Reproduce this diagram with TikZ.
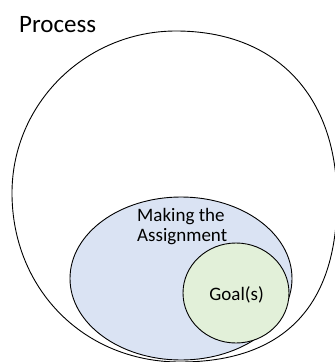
\documentclass[tikz,border=0pt]{standalone}
\usepackage{fontspec}
\setmainfont{Carlito}
\usetikzlibrary{shapes.geometric}
\definecolor{setblue}{RGB}{218,227,243}
\definecolor{setgreen}{RGB}{226,240,217}
\tikzset{
  setline/.style={draw=black, line width=0.9pt},
  setshape/.style={ellipse, setline, inner sep=0pt},
  setlabel/.style={font=\fontsize{19}{20}\selectfont, align=left, inner sep=0pt},
}
\begin{document}
\begin{tikzpicture}[x=1pt, y=-1pt]
  \useasboundingbox (0,0) rectangle (335,362);
  % outer set: round on top, hugging the inner set at the bottom
  \coordinate (otop) at (176,31);
  \coordinate (oright) at (337,200);
  \coordinate (obottom) at (180,362);
  \coordinate (oleft) at (12,193);
  \draw[setline, fill=white]
    (otop) .. controls (275.8,31) and (337,95.2) .. (oright)
           .. controls (337,307) and (283,362) .. (obottom)
           .. controls (84,362) and (12,289) .. (oleft)
           .. controls (12,103.6) and (85.5,31) .. (otop) -- cycle;
  % inner sets
  \node[setshape, fill=setblue, minimum width=222pt, minimum height=163pt] (making) at (181,278.5) {};
  \node[setshape, fill=setgreen, minimum width=106pt, minimum height=100pt] (goals) at (236,293) {};
  % labels
  \node[setlabel, font=\fontsize{25}{26}\selectfont, anchor=base west] (processlabel) at (19,32.3) {Process};
  \node[setlabel, anchor=base west] (makinglabel) at (137,221.7) {Making the};
  \node[setlabel, anchor=base west] (assignlabel) at (137,241.7) {Assignment};
  \node[setlabel, anchor=base] (goalslabel) at (236.7,300) {Goal(s)};
\end{tikzpicture}
\end{document}
